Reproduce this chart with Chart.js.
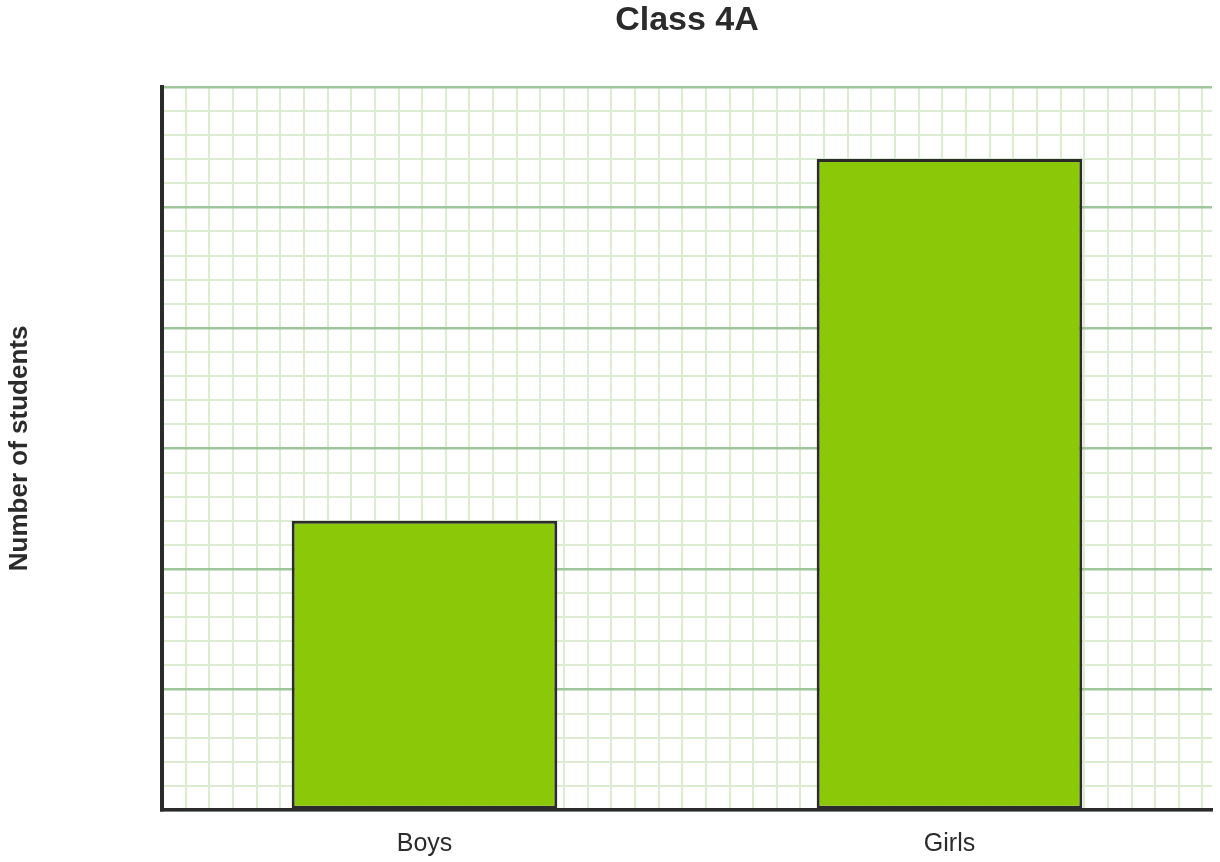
<!DOCTYPE html>
<html>
<head>
<meta charset="utf-8">
<title>Class 4A</title>
<script src="https://cdn.jsdelivr.net/npm/chart.js@4"></script>
<style>
  html, body { margin: 0; padding: 0; background: #fff; }
  #wrap { width: 1220px; height: 862px; position: relative; }
</style>
</head>
<body>
<div id="wrap"><canvas id="chart"></canvas></div>
<script>
// data
const categories = ['Boys', 'Girls'];
const students = [12, 27];
const yMax = 30;      // top gridline
const majorStep = 5;  // darker lines every 5 students
const gridColumns = 43.4; // square paper: columns across the plot

const ink = '#2b2b2b';
const font = 'Liberation Sans, Arial, Helvetica, sans-serif';

const ctx = document.getElementById('chart').getContext('2d');

new Chart(ctx, {
  type: 'bar',
  data: {
    labels: categories,
    datasets: [{
      label: 'Number of students',
      data: students,
      backgroundColor: '#8bc808',
      borderColor: ink,
      borderWidth: 3,
      borderSkipped: false,
      barPercentage: 0.506,
      categoryPercentage: 1.0,
    }],
  },
  options: {
    responsive: true,
    maintainAspectRatio: false,
    animation: false,
    layout: { padding: { left: 4, right: 8, top: 0, bottom: 0 } },
    plugins: {
      legend: { display: false },
      tooltip: { enabled: false },
      title: {
        display: true,
        text: 'Class 4A',
        fullSize: false,
        color: ink,
        font: { family: font, size: 34, weight: 'bold' },
        padding: { top: 0, bottom: 46 },
      },
    },
    scales: {
      x: {
        type: 'category',
        position: 'bottom',
        grid: { display: false, drawTicks: false },
        border: { display: true, color: ink, width: 3.5 },
        ticks: {
          color: ink,
          padding: 19,
          font: { family: font, size: 25 },
        },
        afterFit: (scale) => { scale.height = 52; },
      },
      x2: {
        type: 'linear',
        position: 'bottom',
        min: 0,
        max: gridColumns,
        grid: { color: '#dcecd0', lineWidth: 2, drawTicks: false },
        border: { display: false },
        ticks: { display: false, stepSize: 1, includeBounds: false, maxTicksLimit: 100 },
        afterFit: (scale) => { scale.height = 0; },
      },
      y: {
        min: 0,
        max: yMax,
        grid: {
          drawTicks: false,
          color: (c) => (c.tick && c.tick.value % majorStep === 0 ? '#9fc59b' : '#dcecd0'),
          lineWidth: (c) => (c.tick && c.tick.value % majorStep === 0 ? 2.5 : 2),
        },
        border: { display: true, color: ink, width: 4 },
        ticks: { display: false, stepSize: 1, maxTicksLimit: 100 },
        title: {
          display: true,
          text: 'Number of students',
          color: ink,
          font: { family: font, size: 26, weight: 'bold' },
          padding: { top: 0, bottom: 0 },
        },
        afterFit: (scale) => { scale.width = 158; },
      },
    },
  },
});
</script>
</body>
</html>
